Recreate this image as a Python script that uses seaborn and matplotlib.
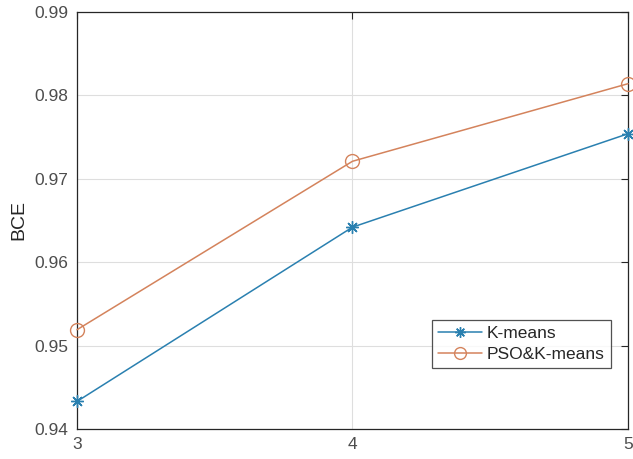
import matplotlib
matplotlib.use("Agg")
import matplotlib.pyplot as plt
import seaborn as sns
import pandas as pd

clusters = [3, 4, 5]
kmeans = [0.9433, 0.9642, 0.9754]
pso_kmeans = [0.9519, 0.9721, 0.9814]
series_names = ["K-means", "PSO&K-means"]
yticks = [0.94, 0.95, 0.96, 0.97, 0.98, 0.99]

sns.set_style("white")
plt.rcParams['font.family'] = ['Liberation Sans', 'DejaVu Sans']

df = pd.DataFrame({
    "x": clusters * 2,
    "y": kmeans + pso_kmeans,
    "series": [series_names[0]] * 3 + [series_names[1]] * 3,
})

fig = plt.figure(figsize=(6.33, 4.59), dpi=100)
ax = fig.add_axes([0.1216, 0.0654, 0.8705, 0.9085])

colors = {"K-means": "#2a80b0", "PSO&K-means": "#d4835c"}
sub = df[df.series == "K-means"]
sns.lineplot(data=sub, x="x", y="y", ax=ax, color=colors["K-means"], marker=(8, 2, 0),
             markersize=9, markeredgewidth=1.0, markeredgecolor=colors["K-means"],
             linewidth=1.1, label="K-means", clip_on=False, zorder=5)
sub = df[df.series == "PSO&K-means"]
sns.lineplot(data=sub, x="x", y="y", ax=ax, color=colors["PSO&K-means"], marker="o",
             markersize=10, markerfacecolor="none", markeredgecolor=colors["PSO&K-means"],
             markeredgewidth=1.0, linewidth=1.1, label="PSO&K-means", clip_on=False, zorder=5)

ax.set_xlim(3, 5)
ax.set_ylim(0.94, 0.99)
ax.set_xticks(clusters)
ax.set_yticks(yticks)
ax.set_xticklabels([str(c) for c in clusters])
ax.set_yticklabels([f"{t:.2f}" for t in yticks])
ax.grid(True, color="#dedede", linewidth=0.8)
ax.set_axisbelow(True)
ax.set_xlabel("")
ax.set_ylabel("BCE", fontsize=14, color="#262626", labelpad=5)
ax.tick_params(direction="in", length=5, width=0.8, colors="#262626",
               labelsize=12.5, labelcolor="#4d4d4d", pad=6, top=True, right=True)
for s in ax.spines.values():
    s.set_visible(True)
    s.set_color("#262626")
    s.set_linewidth(0.9)

leg = ax.legend(loc="upper left", bbox_to_anchor=(0.645, 0.261), frameon=True,
                fancybox=False, edgecolor="#262626", fontsize=12.5, handlelength=2.5,
                borderpad=0.35, labelspacing=0.3, handletextpad=0.3, borderaxespad=0,
                markerscale=0.85)
leg.get_frame().set_linewidth(0.9)

fig.savefig("out.png", dpi=100)
